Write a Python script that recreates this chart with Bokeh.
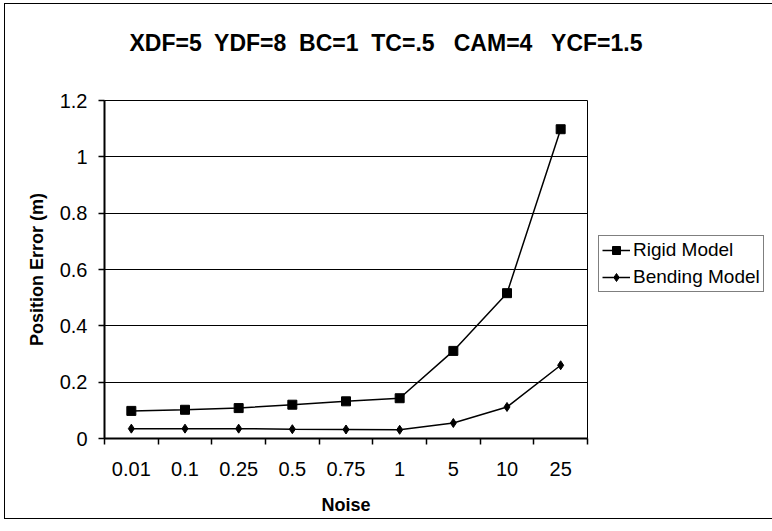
from bokeh.plotting import figure
from bokeh.models import Range1d, FixedTicker, Legend, LegendItem, Title
from bokeh.embed import file_html
from bokeh.resources import INLINE

noise_labels = ["0.01", "0.1", "0.25", "0.5", "0.75", "1", "5", "10", "25"]
rigid_model = [0.098, 0.102, 0.108, 0.12, 0.132, 0.143, 0.311, 0.516, 1.098]
bending_model = [0.035, 0.035, 0.035, 0.033, 0.032, 0.031, 0.055, 0.112, 0.26]
y_ticks = [0, 0.2, 0.4, 0.6, 0.8, 1, 1.2]
title_text = "XDF=5\u00a0 YDF=8\u00a0 BC=1\u00a0 TC=.5\u00a0\u00a0 CAM=4\u00a0\u00a0 YCF=1.5"

FONT = "Liberation Sans"

x_pos = [i + 0.5 for i in range(len(noise_labels))]

p = figure(frame_width=483, frame_height=338, output_backend="svg", toolbar_location=None,
           x_range=Range1d(0, len(noise_labels)), y_range=Range1d(0, 1.2),
           min_border_left=99, min_border_right=0, min_border_top=96,
           min_border_bottom=80)
p.title = None
p.styles = {"border": "1px solid black", "margin-left": "4px", "margin-top": "3px"}
p.background_fill_color = "white"
p.border_fill_color = "white"
p.outline_line_color = "black"
p.outline_line_width = 1

# spacer between frame and title (keeps the title high without moving the frame)
spacer = Title(text="\u00a0", text_font_size="10px", standoff=32, text_color="white")
p.add_layout(spacer, "above")

# title
main_title = Title(text=title_text, align="left", offset=25, standoff=0,
                   text_font=FONT, text_font_size="23px", text_font_style="bold",
                   text_color="black")
p.add_layout(main_title, "above")

# grid
p.xgrid.visible = False
p.ygrid.grid_line_color = "black"
p.ygrid.grid_line_width = 1
p.ygrid.ticker = FixedTicker(ticks=y_ticks)

# x axis
p.xaxis.ticker = FixedTicker(ticks=x_pos, minor_ticks=list(range(len(noise_labels) + 1)))
p.xaxis.major_label_overrides = {x: lab for x, lab in zip(x_pos, noise_labels)}
p.xaxis.major_tick_out = 0
p.xaxis.major_tick_in = 0
p.xaxis.minor_tick_out = 6
p.xaxis.minor_tick_in = 0
p.xaxis.minor_tick_line_color = "black"
p.xaxis.minor_tick_line_width = 1.5
p.xaxis.major_label_standoff = 17
p.xaxis.axis_label = "Noise"
p.xaxis.axis_label_standoff = 16

# y axis
p.yaxis.ticker = FixedTicker(ticks=y_ticks)
p.yaxis.major_label_overrides = {0: "0", 1: "1"}
p.yaxis.major_tick_out = 6
p.yaxis.major_tick_in = 0
p.yaxis.minor_tick_out = 0
p.yaxis.minor_tick_in = 0
p.yaxis.major_label_standoff = 11
p.yaxis.axis_label = "Position Error (m)"
p.yaxis.axis_label_standoff = 10

for ax in (p.xaxis, p.yaxis):
    ax.axis_line_color = "black"
    ax.axis_line_width = 2
    ax.major_tick_line_color = "black"
    ax.major_tick_line_width = 1.5
    ax.major_label_text_font = FONT
    ax.major_label_text_font_size = "20px"
    ax.major_label_text_color = "black"
    ax.axis_label_text_font = FONT
    ax.axis_label_text_font_size = "18px"
    ax.axis_label_text_font_style = "bold"
    ax.axis_label_text_color = "black"

# series
r1 = p.line(x_pos, rigid_model, line_color="black", line_width=1.5)
s1 = p.scatter(x_pos, rigid_model, marker="square", size=9, fill_color="black", line_color="black")
r2 = p.line(x_pos, bending_model, line_color="black", line_width=1.5)
s2 = p.scatter(x_pos, bending_model, marker="diamond", size=9, fill_color="black", line_color="black")

legend = Legend(items=[LegendItem(label="Rigid Model", renderers=[r1, s1]),
                       LegendItem(label="Bending Model", renderers=[r2, s2])],
                location=(11, 146))
legend.label_text_font = FONT
legend.label_text_font_size = "19px"
legend.label_text_color = "black"
legend.border_line_color = "black"
legend.border_line_width = 1.5
legend.background_fill_alpha = 1
legend.glyph_width = 28
legend.glyph_height = 20
legend.label_height = 20
legend.spacing = 5
legend.padding = 3
legend.margin = 0
legend.label_standoff = 3
p.add_layout(legend, "right")

open("out.html", "w").write(file_html(p, INLINE))
